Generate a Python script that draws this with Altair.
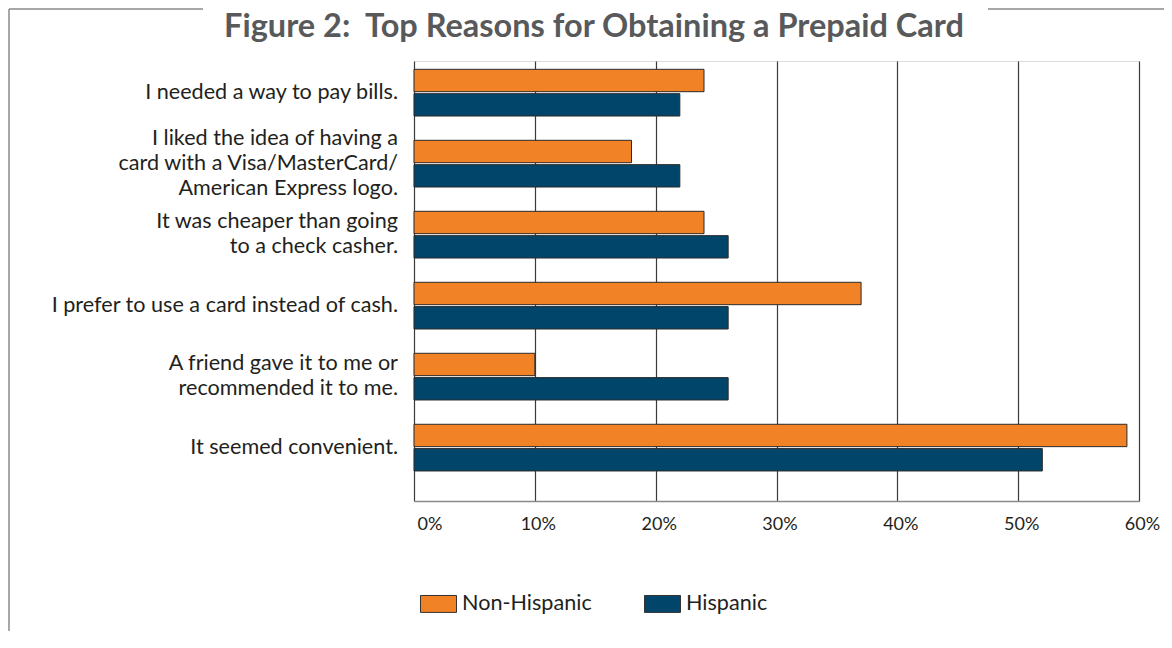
import altair as alt
import pandas as pd

title_text = "Figure 2:\u00a0 Top Reasons for Obtaining a Prepaid Card"
reasons = [
    "I needed a way to pay bills.",
    "I liked the idea of having a|card with a Visa/MasterCard/|American Express logo.",
    "It was cheaper than going|to a check casher.",
    "I prefer to use a card instead of cash.",
    "A friend gave it to me or|recommended it to me.",
    "It seemed convenient.",
]
non_hispanic = [24, 18, 24, 37, 10, 59]
hispanic = [22, 22, 26, 26, 26, 52]
groups = ["Non-Hispanic", "Hispanic"]
colors = ["#F28226", "#02456B"]
x_ticks = [0, 10, 20, 30, 40, 50, 60]

rows = []
for r, a, b in zip(reasons, non_hispanic, hispanic):
    rows.append({"reason": r, "group": groups[0], "value": a})
    rows.append({"reason": r, "group": groups[1], "value": b})
df = pd.DataFrame(rows)
lab_df = pd.DataFrame({"reason": reasons, "nlines": [r.count("|") + 1 for r in reasons]})

W, H = 725, 440
PL, PT = 406, 53
LABEL_SIZE = 21.6
LINE_H = 25

y_enc = alt.Y("reason:N", sort=reasons,
              scale=alt.Scale(paddingInner=0.342, paddingOuter=0.27, align=0.217),
              axis=None)

bars = alt.Chart(df).mark_bar(stroke="#2b2b2b", strokeWidth=1).encode(
    x=alt.X("value:Q", scale=alt.Scale(domain=[0, 60], nice=False),
            axis=alt.Axis(values=x_ticks, labelExpr="datum.value + '%'", title=None,
                          grid=True, gridColor="#3a3a3a", gridWidth=1.2,
                          ticks=False, domain=True, domainColor="#8a8a8a", domainWidth=1.5,
                          labelFont="Lato", labelFontSize=18, labelColor="#231f20",
                          labelPadding=14, labelOffset=3, labelFlush=False,
                          labelAlign=alt.ExprRef(expr="datum.value == 0 ? 'left' : 'center'"))),
    y=y_enc,
    yOffset=alt.YOffset("group:N", sort=groups,
                        scale=alt.Scale(paddingInner=0.08, paddingOuter=0)),
    color=alt.Color("group:N", sort=groups,
                    scale=alt.Scale(domain=groups, range=colors),
                    legend=alt.Legend(title=None, orient="none", legendX=6, legendY=524,
                                      direction="horizontal",
                                      symbolType="M-1,-0.47H1V0.47H-1Z", symbolSize=1296,
                                      symbolStrokeColor="#333333", symbolStrokeWidth=1,
                                      labelFont="Lato", labelFontSize=LABEL_SIZE, labelColor="#231f20",
                                      labelOffset=5, columnPadding=50)),
)

label_layers = []
for n in (1, 2, 3):
    label_layers.append(
        alt.Chart(lab_df).transform_filter(alt.datum.nlines == n).mark_text(
            align="right", baseline="middle", font="Lato", fontSize=LABEL_SIZE,
            color="#231f20", lineBreak="|", lineHeight=LINE_H,
            dy=-(n - 1) * LINE_H / 2,
        ).encode(text="reason:N", y=alt.Y("reason:N", sort=reasons), x=alt.value(-16))
    )

one = pd.DataFrame({"t": [title_text]})
title = alt.Chart(one).mark_text(
    font="Lato", fontSize=32.5, fontWeight="bold", color="#58595b",
    align="center", baseline="alphabetic",
).encode(text="t:N", x=alt.value(180), y=alt.value(-24))

frame_left = alt.Chart(one).mark_rule(color="#8a8a8a", strokeWidth=1.5).encode(
    x=alt.value(-405), y=alt.value(-52), y2=alt.value(600))
frame_top1 = alt.Chart(one).mark_rule(color="#8a8a8a", strokeWidth=1.5).encode(
    x=alt.value(-405), x2=alt.value(-211), y=alt.value(-52))
frame_top2 = alt.Chart(one).mark_rule(color="#8a8a8a", strokeWidth=1.5).encode(
    x=alt.value(574), x2=alt.value(800), y=alt.value(-52))

chart = alt.layer(frame_left, frame_top1, frame_top2, title, bars, *label_layers).properties(
    width=W, height=H,
    autosize=alt.AutoSizeParams(type="none"),
    padding={"left": PL, "top": PT, "right": 25, "bottom": 130},
).configure_view(stroke=None).configure(background="white")

chart.save("out.html", embed_options={"renderer": "svg", "actions": False})
